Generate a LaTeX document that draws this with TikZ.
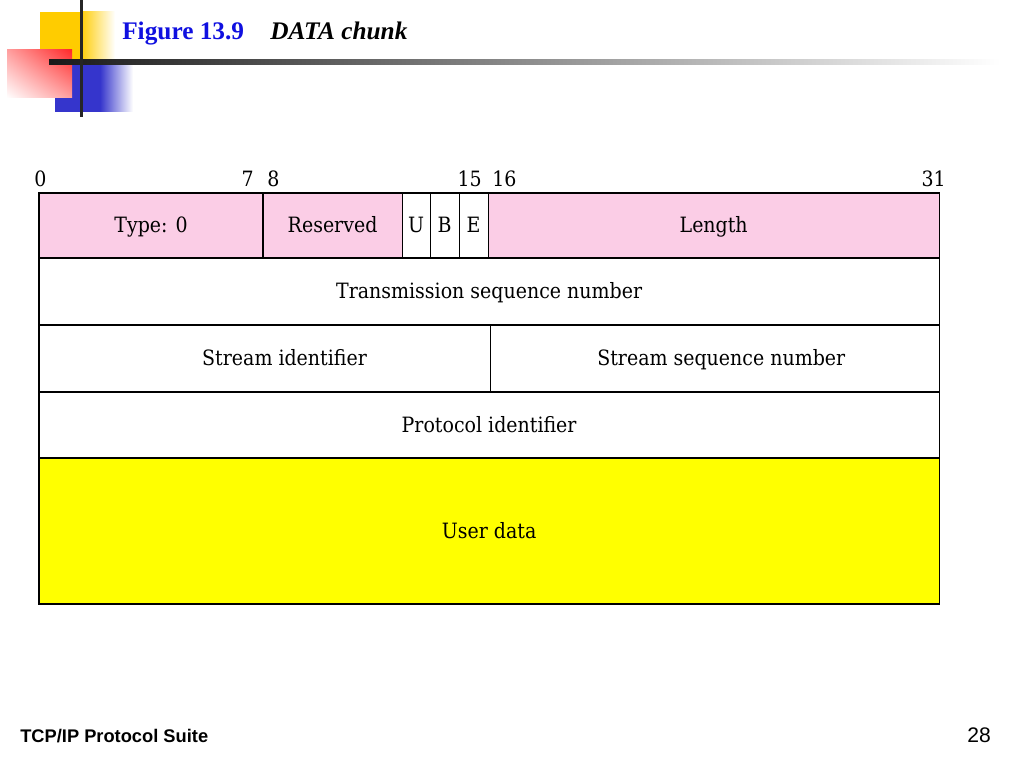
\documentclass[tikz,border=0pt]{standalone}
\usepackage{fontspec}
\setmainfont{DejaVu Serif}[FakeStretch=0.9]
\newfontfamily\titlefont{Liberation Serif}
\newfontfamily\footfont{Liberation Sans}
\usetikzlibrary{positioning,shadings}
\definecolor{hdrc}{HTML}{FBCDE6}
\definecolor{datac}{HTML}{FFFF00}
\definecolor{titlec}{HTML}{1010E0}
\definecolor{decoy}{HTML}{FFCC00}
\definecolor{decor}{HTML}{FF2A2A}
\definecolor{decob}{HTML}{3535CC}
\tikzset{
  field/.style={draw, line width=0.8pt, inner sep=0pt, outer sep=0pt, anchor=north west,
                font=\fontsize{15}{17}\selectfont, text height=1.0em, text depth=0em,
                minimum height=1.65cm},
  hfield/.style={field, fill=hdrc, minimum height=1.625cm},
  bitlbl/.style={font=\fontsize{15}{17}\selectfont, inner sep=0pt, anchor=base},
}
\begin{document}
\begin{tikzpicture}[x=0.025cm, y=-0.025cm]
  \useasboundingbox (0,0) rectangle (1024,768);
  % slide decoration
  \fill[decoy] (40,12) rectangle (80,60);
  \shade[left color=decoy, right color=white] (80,12) rectangle (115,60);
  \fill[decob] (55,62) rectangle (100,112);
  \shade[left color=decob, right color=white] (100,62) rectangle (133,112);
  \shade[upper right=decor, upper left=decor!45, lower right=decor!45, lower left=white] (7,50) rectangle (72,98);
  \shade[left color=black!90, right color=white] (49,59.5) rectangle (1000,64.5);
  \fill[black!85] (79.5,0) rectangle (83,117);
  \node[anchor=base west, inner sep=0pt, font=\titlefont\fontsize{18}{20}\selectfont\bfseries, text=titlec] (fig) at (122,40) {Figure 13.9};
  \node[anchor=base west, inner sep=0pt, font=\titlefont\fontsize{18}{20}\selectfont\bfseries\itshape] (cap) at (270,40) {DATA chunk};

  % bit positions
  \node[bitlbl, anchor=base west] (b0) at (34,186) {0};
  \node[bitlbl, anchor=base east] (b7) at (254,186) {7};
  \node[bitlbl, anchor=base west] (b8) at (267,186) {8};
  \node[bitlbl, anchor=base east] (b15) at (482,186) {15};
  \node[bitlbl, anchor=base west] (b16) at (492,186) {16};
  \node[bitlbl, anchor=base east] (b31) at (946,186) {31};

  % first row
  \node[hfield, minimum width=5.6cm] (type) at (39,193) {Type: 0};
  \node[hfield, minimum width=3.475cm, right=0pt of type.north east, anchor=north west] (res) {Reserved};
  \node[field, fill=white, minimum height=1.625cm, minimum width=0.7cm, right=0pt of res.north east, anchor=north west] (u) {U};
  \node[field, fill=white, minimum height=1.625cm, minimum width=0.725cm, right=0pt of u.north east, anchor=north west] (bb) {B};
  \node[field, fill=white, minimum height=1.625cm, minimum width=0.725cm, right=0pt of bb.north east, anchor=north west] (e) {E};
  \node[hfield, minimum width=11.275cm, right=0pt of e.north east, anchor=north west] (len) {Length};

  % remaining rows
  \node[field, minimum width=22.5cm, minimum height=1.675cm] (tsn) at (39,258) {Transmission sequence number};
  \node[field, minimum width=11.275cm, minimum height=1.675cm] (sid) at (39,325) {\hspace*{1cm}Stream identifier};
  \node[field, minimum width=11.225cm, minimum height=1.675cm, right=0pt of sid.north east, anchor=north west] (ssn) {\hspace*{0.33cm}Stream sequence number};
  \node[field, minimum width=22.5cm] (pid) at (39,392) {Protocol identifier};
  \node[field, fill=datac, minimum width=22.5cm, minimum height=3.65cm] (udata) at (39,458) {User data};

  % footer
  \node[anchor=base west, inner sep=0pt, font=\footfont\fontsize{13}{15}\selectfont\bfseries] (suite) at (20,742) {TCP/IP Protocol Suite};
  \node[anchor=base east, inner sep=0pt, font=\footfont\fontsize{15}{17}\selectfont] (pg) at (991,742) {28};
\end{tikzpicture}
\end{document}
